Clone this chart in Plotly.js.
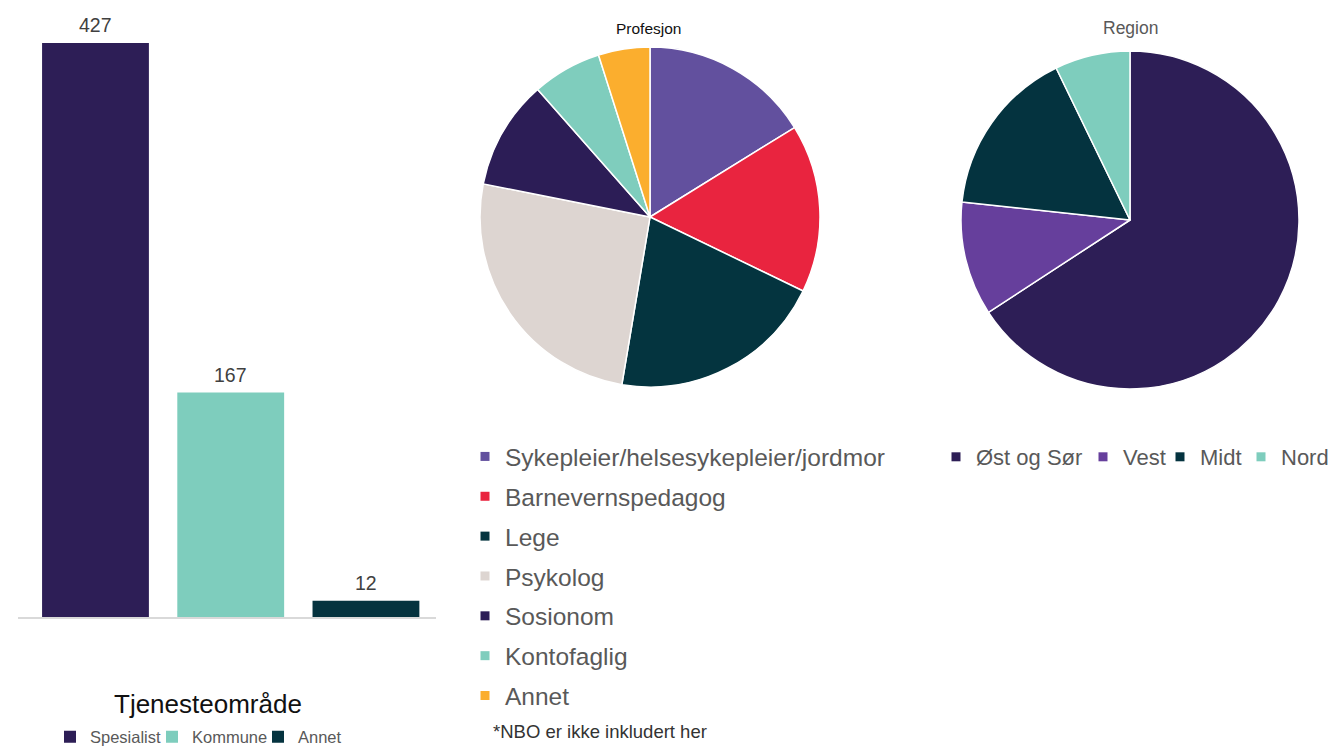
<!DOCTYPE html>
<html>
<head>
<meta charset="utf-8">
<script src="https://cdn.plot.ly/plotly-3.0.1.min.js"></script>
<style>html,body{margin:0;padding:0;background:#fff;}#chart{width:1331px;height:748px;}</style>
</head>
<body>
<div id="chart"></div>
<script>
// ---- data ----
const barCategories = ['Spesialist', 'Kommune', 'Annet'];
const barValues = [427, 167, 12];
const barColors = ['#2d1e56', '#7ecdbd', '#05333f'];

const profLabels = ['Sykepleier/helsesykepleier/jordmor', 'Barnevernspedagog', 'Lege', 'Psykolog', 'Sosionom', 'Kontofaglig', 'Annet'];
const profValues = [16.2, 16.0, 20.5, 25.5, 10.4, 6.6, 4.9];
const profColors = ['#62509e', '#e9243f', '#04343f', '#ddd5d1', '#2c1d56', '#7fcdbd', '#fbae2e'];

const regionLabels = ['Øst og Sør', 'Vest', 'Midt', 'Nord'];
const regionValues = [65.8, 10.9, 16.1, 7.2];
const regionColors = ['#2d1e56', '#663f9c', '#04333f', '#7ecdbd'];

// ---- layout helpers (pixels -> paper) ----
const W = 1331, H = 748;
const px = x => x / W;
const py = y => (H - y) / H;
const FONT = 'Liberation Sans, Arial, sans-serif';

const barLegendWidths = [57, 61, 50];
const regionLegendWidths = [102, 32, 36, 50];

const traces = [];

// bars
barCategories.forEach((c, i) => {
  traces.push({
    type: 'bar', x: [c], y: [barValues[i]], name: c,
    marker: {color: barColors[i]}, legend: 'legend',
    legendwidth: barLegendWidths[i], hoverinfo: 'skip',
    xaxis: 'x', yaxis: 'y'
  });
});

// Profesjon pie
traces.push({
  type: 'pie', labels: profLabels, values: profValues, sort: false,
  direction: 'clockwise', rotation: 0, textinfo: 'none', hoverinfo: 'skip',
  marker: {colors: profColors, line: {color: '#ffffff', width: 1.5}},
  domain: {x: [px(480), px(820)], y: [py(387), py(47)]},
  showlegend: false
});

// Region pie
traces.push({
  type: 'pie', labels: regionLabels, values: regionValues, sort: false,
  direction: 'clockwise', rotation: 0, textinfo: 'none', hoverinfo: 'skip',
  marker: {colors: regionColors, line: {color: '#ffffff', width: 1.5}},
  domain: {x: [px(961), px(1299)], y: [py(389), py(51)]},
  showlegend: false
});

// legend entries for the pies (no marks drawn)
profLabels.forEach((l, i) => {
  traces.push({
    type: 'scatter', mode: 'markers', x: [null], y: [null], name: l,
    marker: {symbol: 'square', size: 9, color: profColors[i]},
    legend: 'legend2', legendgroup: 'p' + i, xaxis: 'x2', yaxis: 'y2', hoverinfo: 'skip'
  });
});
regionLabels.forEach((l, i) => {
  traces.push({
    type: 'scatter', mode: 'markers', x: [null], y: [null], name: l,
    marker: {symbol: 'square', size: 9, color: regionColors[i]},
    legend: 'legend3', legendwidth: regionLegendWidths[i],
    xaxis: 'x2', yaxis: 'y2', hoverinfo: 'skip'
  });
});

const barAnnotations = barCategories.map((c, i) => ({
  xref: 'x', yref: 'y', x: c, y: barValues[i], text: String(barValues[i]),
  showarrow: false, yanchor: 'bottom', yshift: 5,
  font: {family: FONT, size: 19.5, color: '#404040'}
}));

const layout = {
  width: W, height: H,
  margin: {l: 0, r: 0, t: 0, b: 0, pad: 0, autoexpand: false},
  paper_bgcolor: '#ffffff', plot_bgcolor: 'rgba(0,0,0,0)',
  font: {family: FONT},
  barmode: 'overlay', bargap: 0.21,
  showlegend: true,
  xaxis: {
    domain: [px(18), px(436)], range: [-0.573, 2.518], type: 'category',
    showline: true, linecolor: '#d9d9d9', linewidth: 1.5,
    showticklabels: false, ticks: '', showgrid: false, zeroline: false, fixedrange: true
  },
  yaxis: {
    domain: [py(617), py(12.1)], range: [0, 450],
    visible: false, showgrid: false, zeroline: false, fixedrange: true
  },
  xaxis2: {domain: [0.999, 1], visible: false, range: [0, 1]},
  yaxis2: {domain: [0.999, 1], visible: false, range: [0, 1]},
  legend: {
    orientation: 'h', x: px(50), xanchor: 'left', y: py(737), yanchor: 'middle',
    bgcolor: 'rgba(0,0,0,0)', font: {family: FONT, size: 16.5, color: '#595959'},
    traceorder: 'normal'
  },
  legend2: {
    orientation: 'v', x: px(465), xanchor: 'left', y: py(434), yanchor: 'top',
    bgcolor: 'rgba(0,0,0,0)', font: {family: FONT, size: 24.5, color: '#595959'},
    traceorder: 'grouped', tracegroupgap: 5
  },
  legend3: {
    orientation: 'h', x: px(936), xanchor: 'left', y: py(457), yanchor: 'middle',
    bgcolor: 'rgba(0,0,0,0)', font: {family: FONT, size: 22, color: '#595959'},
    traceorder: 'normal'
  },
  annotations: barAnnotations.concat([
    {xref: 'paper', yref: 'paper', x: px(208), y: py(704), text: 'Tjenesteområde',
     showarrow: false, xanchor: 'center', yanchor: 'middle',
     font: {family: FONT, size: 26, color: '#111111'}},
    {xref: 'paper', yref: 'paper', x: px(648), y: py(28), text: 'Profesjon',
     showarrow: false, xanchor: 'center', yanchor: 'middle',
     font: {family: FONT, size: 15.5, color: '#111111'}},
    {xref: 'paper', yref: 'paper', x: px(1130), y: py(28), text: 'Region',
     showarrow: false, xanchor: 'center', yanchor: 'middle',
     font: {family: FONT, size: 17.5, color: '#595959'}},
    {xref: 'paper', yref: 'paper', x: px(491), y: py(731), text: '*NBO er ikke inkludert her',
     showarrow: false, xanchor: 'left', yanchor: 'middle',
     font: {family: FONT, size: 18.5, color: '#333333'}}
  ])
};

Plotly.newPlot('chart', traces, layout, {displayModeBar: false, staticPlot: true});
</script>
</body>
</html>
